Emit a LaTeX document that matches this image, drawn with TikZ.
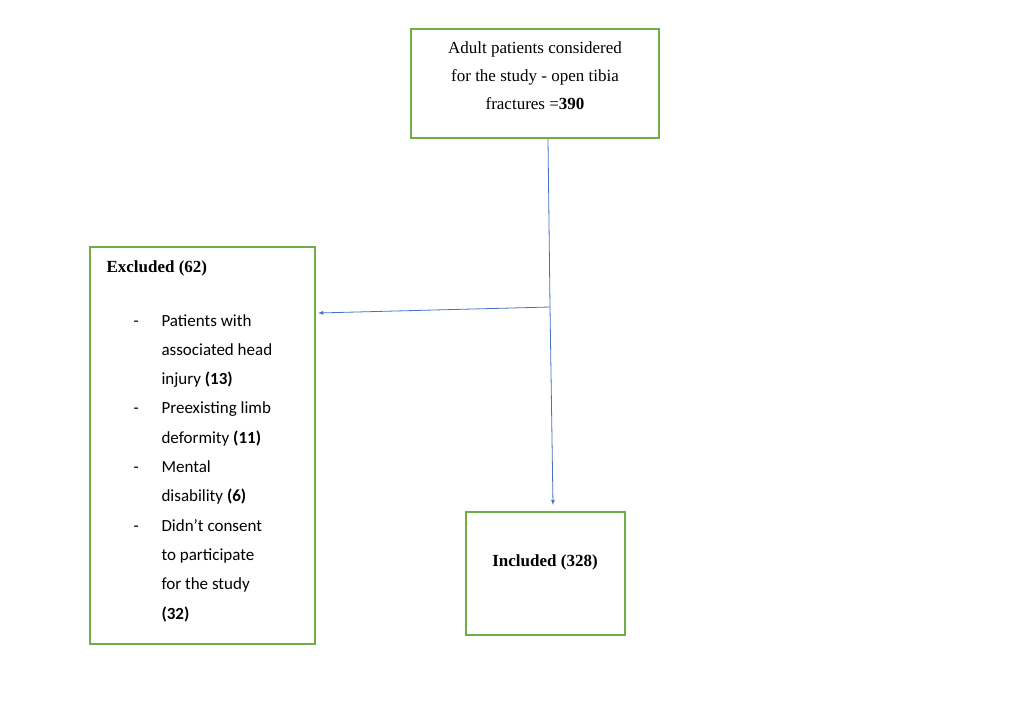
\documentclass[tikz,border=0pt]{standalone}
\usepackage{fontspec}
\setmainfont{Liberation Serif}
\newfontfamily\bodyfont{Carlito}
\usetikzlibrary{positioning}
\definecolor{boxgreen}{RGB}{112,173,71}
\definecolor{arrowblue}{RGB}{68,114,196}
\tikzset{
  flowbox/.style={draw=boxgreen, line width=1.2pt},
  flowarrow/.style={draw=arrowblue, line width=0.8pt, -latex},
}
\begin{document}
\begin{tikzpicture}[x=1pt,y=-1pt]
  \useasboundingbox (0,0) rectangle (1027,715);
  \draw[flowbox] (411,29) rectangle (659,138);
  \node[align=center, font=\fontsize{17}{28}\selectfont] (top) at (535,76)
    {Adult patients considered\\for the study - open tibia\\fractures =\textbf{390}};
  \draw[flowbox] (90,247) rectangle (315,644);
  \node[anchor=west, font=\fontsize{17}{20}\selectfont\bfseries] (exhead) at (103,268) {Excluded (62)};
  \node[anchor=north west, align=left, font=\bodyfont\fontsize{17}{29.3}\selectfont] (exlist) at (130,302)
    {\begin{tabular}{@{}p{28pt}@{}l@{}}
      - & Patients with\\
        & associated head\\
        & injury \textbf{(13)}\\
      - & Preexisting limb\\
        & deformity \textbf{(11)}\\
      - & Mental\\
        & disability \textbf{(6)}\\
      - & Didn’t consent\\
        & to participate\\
        & for the study\\
        & \textbf{(32)}
    \end{tabular}};
  \draw[flowbox] (466,512) rectangle (625,635);
  \node[font=\fontsize{17}{20}\selectfont\bfseries] (incl) at (545,562) {Included (328)};
  \coordinate (start) at (548,139);
  \coordinate (branch) at (550,307);
  \coordinate (exend) at (318,313);
  \coordinate (inend) at (553,505);
  \draw[draw=arrowblue, line width=0.8pt] (start) -- (branch);
  \draw[flowarrow] (branch) -- (inend);
  \draw[flowarrow] (branch) -- (exend);
\end{tikzpicture}
\end{document}
